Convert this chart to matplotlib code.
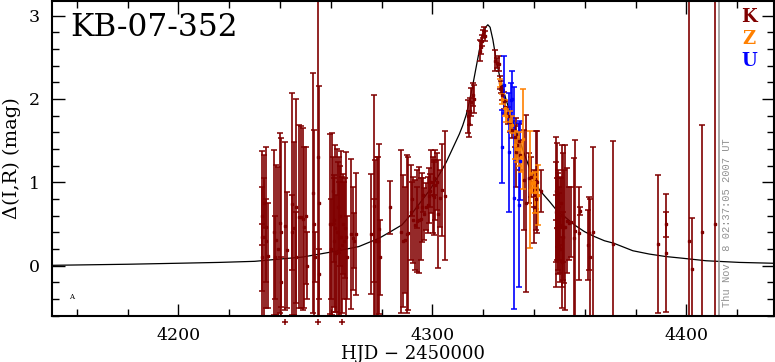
import matplotlib
matplotlib.use("Agg")
import matplotlib.pyplot as plt
from matplotlib.ticker import MultipleLocator

# model light curve
model_hjd = [4150, 4180, 4200, 4216, 4230, 4249, 4263, 4271, 4279, 4283, 4288, 4292, 4296,
             4299, 4303, 4305.4, 4308, 4310.6, 4311.9, 4313.3, 4314.6, 4315.9, 4317.2,
             4318.5, 4319.8, 4320.9, 4321.8, 4322.7, 4323.8, 4325.1, 4326.4, 4329.0,
             4331.6, 4334.2, 4336.9, 4339.5, 4342.1, 4346.1, 4349.3, 4352.0, 4355.9,
             4359.8, 4363.8, 4367.7, 4371.4, 4378.9, 4385.4, 4392.0, 4398.5, 4407.7,
             4420.9, 4434]
model_mag = [0.005, 0.018, 0.03, 0.04, 0.053, 0.105, 0.18, 0.23, 0.33, 0.40, 0.49, 0.63, 0.79,
             0.91, 1.11, 1.24, 1.41, 1.58, 1.68, 1.81, 1.98, 2.17, 2.38,
             2.59, 2.75, 2.86, 2.89, 2.86, 2.71, 2.47, 2.28, 1.99,
             1.74, 1.51, 1.28, 1.07, 0.91, 0.77, 0.65, 0.59, 0.49,
             0.41, 0.35, 0.30, 0.27, 0.18, 0.14, 0.11, 0.09, 0.06,
             0.04, 0.03]

# K data
k_hjd = [4232.8, 4232.9, 4233.0, 4233.6, 4233.7, 4234.5, 4234.6, 4235.2, 4237.8, 4238.0,
         4238.5, 4239.1, 4239.8, 4240.2, 4240.3, 4242.1, 4242.6, 4244.7, 4244.8, 4245.3,
         4246.1, 4246.3, 4247.6, 4248.3, 4249.0, 4249.6, 4250.3, 4250.5, 4252.9, 4253.5,
         4253.6, 4254.8, 4255.2, 4255.3, 4259.8, 4260.0, 4260.5, 4260.7, 4261.1, 4261.3,
         4261.8, 4262.0, 4262.5, 4262.7, 4263.1, 4263.4, 4263.6, 4264.0, 4264.3, 4264.6,
         4265.0, 4265.5, 4266.0, 4266.3, 4268.1, 4268.6, 4269.3, 4269.9, 4275.7, 4276.8,
         4277.0, 4277.4, 4278.1, 4278.7, 4279.1, 4279.3, 4283.1, 4287.7, 4288.3, 4289.1,
         4290.0, 4290.5, 4291.6, 4292.0, 4292.5, 4293.3, 4293.8, 4294.0, 4294.6, 4295.3,
         4295.9, 4296.3, 4296.8, 4297.5, 4298.2, 4298.8, 4299.0, 4299.5, 4300.1, 4300.5,
         4300.8, 4301.2, 4301.7, 4302.2, 4302.8, 4303.8, 4305.1, 4313.9, 4314.2, 4314.6,
         4315.2, 4315.9, 4316.3, 4318.8, 4319.2, 4319.6, 4320.0, 4320.3, 4320.6, 4324.8,
         4325.3, 4326.1, 4326.5, 4327.0, 4327.5, 4328.0, 4328.6, 4329.8, 4330.5, 4331.3,
         4332.5, 4332.9, 4333.4, 4334.0, 4334.6, 4336.2, 4336.9, 4338.2, 4338.8, 4339.8,
         4340.0, 4340.6, 4340.8, 4341.1, 4342.9, 4348.6, 4348.7, 4348.8, 4348.9, 4349.1,
         4349.3, 4349.4, 4349.6, 4349.8, 4350.0, 4350.2, 4350.4, 4350.6, 4350.9, 4351.0,
         4351.3, 4351.5, 4351.7, 4352.2, 4353.0, 4353.9, 4354.6, 4355.6, 4356.2, 4357.9,
         4358.0, 4361.1, 4361.8, 4361.9, 4363.1, 4371.0, 4389.0, 4392.0, 4392.1, 4400.9,
         4402.2, 4406.0, 4411.2]
k_mag = [0.35, 0.60, 0.10, 0.35, 0.75, 0.46, 0.30, 0.12, 0.40, 0.10,
         0.31, 0.20, 0.51, 0.40, -0.20, 0.48, 0.19, 0.74, 0.40, 0.45,
         0.70, 0.10, 0.59, 0.58, 0.56, 0.46, 0.60, 0.00, 0.87, 0.50,
         0.10, 1.30, 0.75, -0.10, 0.50, 0.20, 0.50, 0.90, 0.30, 0.55,
         0.45, 0.15, 0.40, 0.70, 0.20, 0.35, 0.60, 0.35, 0.25, 0.50,
         0.30, 0.45, 0.35, 0.10, 0.38, 0.33, 0.30, 0.38, 0.38, 0.72,
         0.30, 0.30, 0.30, 0.30, 0.44, 0.10, 0.70, 0.41, 0.30, 0.31,
         0.38, 0.39, 0.64, 0.80, 0.55, 0.49, 0.54, 0.70, 0.55, 0.56,
         0.70, 0.85, 0.62, 0.71, 0.73, 0.84, 0.90, 1.01, 0.85, 1.05,
         0.82, 0.97, 1.01, 0.62, 0.81, 0.91, 0.84, 1.79, 1.70, 1.85,
         1.96, 2.05, 2.00, 2.58, 2.62, 2.70, 2.78, 2.81, 2.75, 2.46,
         2.43, 2.42, 2.20, 2.14, 2.05, 1.98, 1.90, 1.80, 1.72, 1.63,
         1.55, 1.36, 1.45, 1.50, 1.33, 1.03, 0.75, 1.05, 1.06, 0.71,
         0.85, 1.02, 0.80, 1.00, 0.90, 0.90, 0.64, 0.45, 0.77, 0.75,
         0.53, 0.30, 0.69, 0.60, 0.47, 0.20, 0.49, 0.75, 0.47, 0.05,
         0.59, 0.35, 0.47, 0.46, 0.54, 0.51, 0.53, 0.33, 0.42, 0.39,
         0.66, 0.25, 0.39, 0.10, 0.40, 0.26, 0.26, 0.15, 0.50, 0.30,
         -0.04, 0.40, 0.50]
k_err = [1.03, 0.35, 0.40, 0.98, 0.30, 0.97, 0.50, 0.63, 0.99, 0.50,
         0.90, 0.99, 1.08, 1.13, 0.30, 1.01, 0.70, 1.33, 0.45, 1.04,
         1.30, 0.55, 1.10, 1.09, 1.09, 0.97, 0.82, 0.40, 1.44, 1.13,
         0.30, 1.95, 1.40, 0.30, 1.08, 0.60, 1.09, 0.40, 0.79, 0.50,
         1.00, 0.70, 1.00, 0.55, 0.80, 0.96, 0.60, 1.03, 0.82, 0.60,
         0.70, 0.60, 1.02, 0.50, 0.90, 0.62, 0.33, 0.73, 0.72, 1.33,
         0.50, 0.97, 1.01, 1.00, 1.02, 0.45, 0.32, 0.98, 0.79, 0.64,
         0.95, 0.92, 0.57, 0.20, 0.52, 0.54, 0.61, 0.25, 0.64, 0.49,
         0.41, 0.20, 0.31, 0.28, 0.34, 0.33, 0.20, 0.38, 0.46, 0.20,
         0.45, 0.42, 0.34, 0.65, 0.34, 0.55, 0.77, 0.20, 0.15, 0.16,
         0.17, 0.14, 0.17, 0.13, 0.08, 0.07, 0.05, 0.05, 0.06, 0.13,
         0.06, 0.09, 0.08, 0.07, 0.06, 0.10, 0.08, 0.10, 0.12, 0.10,
         0.13, 0.41, 0.12, 0.20, 0.18, 0.60, 1.06, 0.30, 0.24, 0.44,
         0.15, 0.59, 0.12, 0.61, 0.25, 0.35, 0.90, 0.40, 0.70, 0.30,
         0.58, 0.40, 0.46, 0.35, 0.40, 0.40, 0.58, 0.30, 0.98, 0.30,
         0.76, 0.30, 0.68, 0.99, 0.63, 0.44, 0.42, 0.96, 1.09, 0.56,
         0.05, 0.42, 0.44, 0.70, 1.02, 1.24, 0.83, 0.71, 0.15, 3.50,
         0.61, 1.29, 3.50]

# Z data
z_hjd = [4326.5, 4327.5, 4328.4, 4329.1, 4330.4, 4331.2, 4332.6, 4333.2,
         4334.2, 4335.0, 4335.6, 4338.6, 4339.2, 4340.1, 4340.5, 4341.6]
z_mag = [2.19, 2.00, 1.89, 1.80, 1.74, 1.69, 1.45, 1.40,
         1.40, 1.30, 1.52, 0.91, 0.99, 1.00, 0.88, 0.85]
z_err = [0.05, 0.06, 0.10, 0.08, 0.12, 0.10, 0.17, 0.15,
         0.20, 0.18, 0.60, 0.70, 0.12, 0.07, 0.25, 0.36]

# U data
u_hjd = [4327.3, 4328.1, 4330.0, 4331.0, 4331.4, 4332.0, 4334.0, 4334.5]
u_mag = [1.43, 2.17, 1.36, 1.99, 2.00, 0.81, 0.73, 1.26]
u_err = [0.44, 0.34, 0.71, 0.20, 0.34, 1.33, 0.98, 0.47]

# K points falling below the plot
off_hjd = [4242.1, 4254.8, 4264.3]
off_mag = [-0.67, -0.67, -0.67]

now_hjd = 4412.7
stamp = "Thu Nov  8 02:37:05 2007 UT"

c_k = "#800000"
c_z = "#ff8000"
c_u = "#0000ff"

plt.rcParams['font.family'] = ['DejaVu Serif']

fig = plt.figure(figsize=(7.75, 3.62), dpi=100)
ax = fig.add_axes([0.0671, 0.127, 0.931, 0.870])

ax.plot(model_hjd, model_mag, color="black", lw=0.9, zorder=1)
ax.axvline(now_hjd, color="#909090", lw=1.1, zorder=1)

for xs, ys, es, c in [(k_hjd, k_mag, k_err, c_k), (u_hjd, u_mag, u_err, c_u),
                      (z_hjd, z_mag, z_err, c_z)]:
    ax.errorbar(xs, ys, yerr=es, fmt='s', ms=2, color=c, ecolor=c,
                elinewidth=1.2, capsize=2.4, capthick=1.1, zorder=2)

ax.plot(off_hjd, off_mag, '+', color=c_k, ms=4, mew=1.1, clip_on=False)

ax.set_xlim(4150.2, 4434.3)
ax.set_ylim(-0.603, 3.174)
ax.xaxis.set_major_locator(MultipleLocator(100))
ax.xaxis.set_minor_locator(MultipleLocator(20))
ax.yaxis.set_major_locator(MultipleLocator(1))
ax.yaxis.set_minor_locator(MultipleLocator(0.2))
ax.tick_params(which='both', direction='in', top=True, right=True, width=1.0)
ax.tick_params(which='major', length=9, labelsize=12.5)
ax.tick_params(axis='x', which='major', pad=8)
ax.tick_params(axis='y', which='major', pad=9)
ax.tick_params(which='minor', length=5)
for s in ax.spines.values():
    s.set_linewidth(1.5)

ax.set_xlabel("HJD \u2212 2450000", fontsize=13)
ax.xaxis.set_label_coords(0.5, -0.093)
ax.set_ylabel("\u0394(I,R) (mag)", fontsize=14, labelpad=5)

ax.text(0.025, 0.889, "KB-07-352", transform=ax.transAxes, fontsize=22.5,
        ha='left', va='baseline')
for lab, c, yy in [("K", c_k, 0.948), ("Z", c_z, 0.879), ("U", c_u, 0.81)]:
    ax.text(0.966, yy, lab, color=c, transform=ax.transAxes, fontsize=13,
            fontweight='bold', ha='center', va='center')
ax.text(0.936, 0.295, stamp, transform=ax.transAxes, rotation=90, color="#909090",
        fontsize=7.5, family='Liberation Mono', ha='center', va='center')
ax.text(4157.9, -0.375, "A", fontsize=5, ha='center', va='center')

fig.savefig("out.png", dpi=100)
